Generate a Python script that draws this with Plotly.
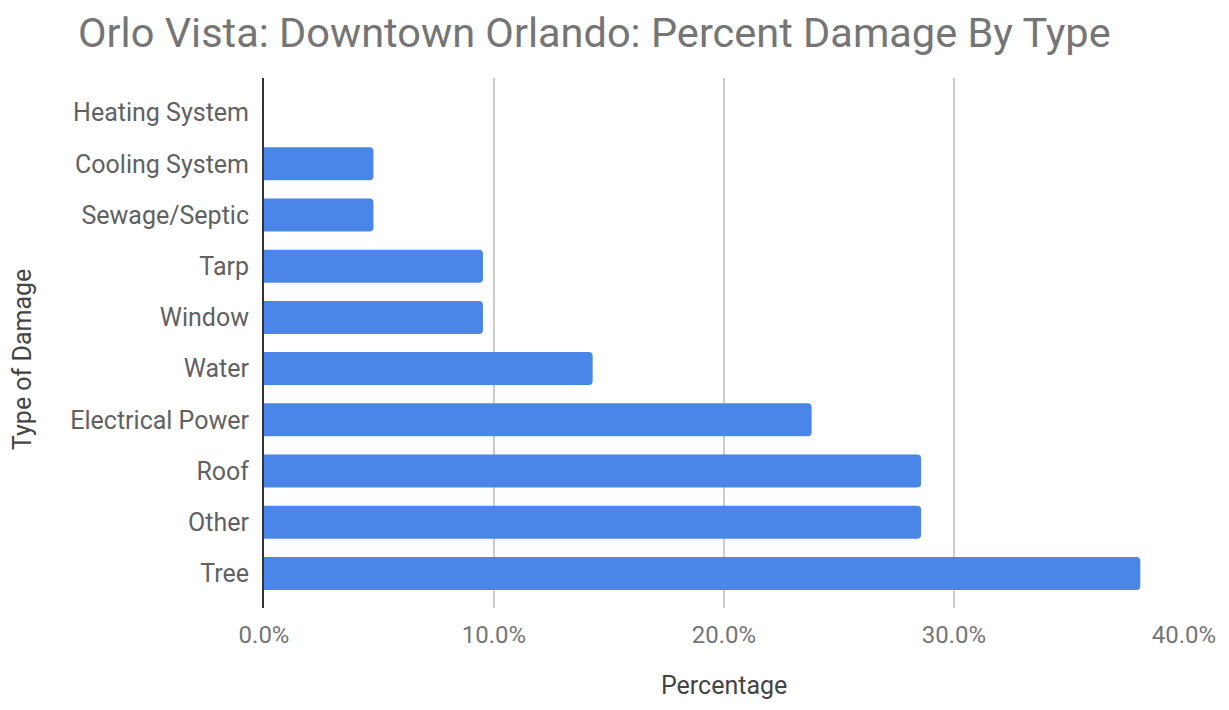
import plotly.graph_objects as go

categories = ["Heating System", "Cooling System", "Sewage/Septic", "Tarp", "Window",
              "Water", "Electrical Power", "Roof", "Other", "Tree"]
percentages = [0.0, 4.76, 4.76, 9.52, 9.52, 14.29, 23.81, 28.57, 28.57, 38.1]
tick_vals = [0, 10, 20, 30, 40]
tick_text = ["0.0%", "10.0%", "20.0%", "30.0%", "40.0%"]

W, H = 1213, 694  # page body has an 8px margin, so the figure is a bit smaller than the window

fig = go.Figure()
fig.add_trace(go.Bar(
    x=percentages, y=categories, orientation="h",
    marker=dict(color="#4a86e8", line=dict(width=0)),
    hoverinfo="x+y",
))

fig.update_layout(
    width=W, height=H,
    paper_bgcolor="white", plot_bgcolor="white",
    font=dict(family="Roboto", color="#616161"),
    title=dict(text="Orlo Vista: Downtown Orlando: Percent Damage By Type",
               x=70 / W, xanchor="left", y=1 - 24 / H, yanchor="middle",
               font=dict(size=41.5, color="#757575")),
    margin=dict(l=256, r=37, t=70, b=94),
    bargap=0.355,
    barcornerradius=4,
    showlegend=False,
)
fig.update_xaxes(
    range=[0, 40], tickvals=tick_vals, ticktext=tick_text,
    showgrid=True, gridcolor="#cccccc", gridwidth=1.5,
    zeroline=False, showline=False, automargin=False,
    tickfont=dict(size=24, color="#757575"), ticks="", ticklabelstandoff=10,
)
fig.update_yaxes(
    range=[9.675, -0.675],
    showgrid=False, zeroline=False, automargin=False,
    showline=True, linecolor="#333333", linewidth=2,
    tickfont=dict(size=25, color="#616161"), ticks="", ticklabelstandoff=8,
)

# axis titles as annotations so they sit where the reference has them
fig.add_annotation(text="Percentage", xref="paper", yref="paper",
                   x=(716 - 256) / 920, y=1 - (677 - 70) / 530,
                   xanchor="center", yanchor="middle", showarrow=False, borderpad=0,
                   font=dict(size=25, color="#444444"))
fig.add_annotation(text="Type of Damage", xref="paper", yref="paper",
                   x=-(256 - 14) / 920, y=1 - (352 - 70) / 530,
                   xanchor="center", yanchor="middle", showarrow=False, textangle=-90,
                   font=dict(size=25, color="#444444"))

fig.write_html("out.html")
